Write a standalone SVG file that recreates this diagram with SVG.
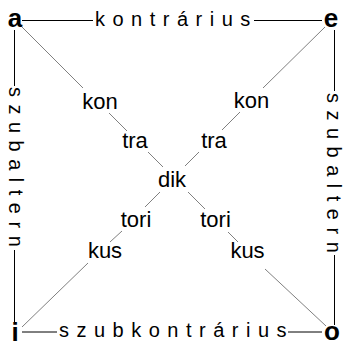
<svg xmlns="http://www.w3.org/2000/svg" width="345" height="347" viewBox="0 0 345 347">
<style>
.edge{stroke:#000;stroke-width:1;fill:none}
.diag{stroke:#808080;stroke-width:1;fill:none}
.v{font-family:"Liberation Sans",Arial,sans-serif;font-weight:bold;font-size:26px;fill:#000;text-anchor:middle}
.side{font-family:"Liberation Sans",Arial,sans-serif;font-size:20px;letter-spacing:7.5px;fill:#000}
.lab{font-family:"Liberation Sans",Arial,sans-serif;font-size:22px;fill:#000;text-anchor:middle}
</style>
<rect width="345" height="347" fill="#fff"/>
<g id="connectors">
  <g id="edge-a-e">
    <line class="edge" x1="22" y1="20.5" x2="93" y2="20.5"/>
    <text class="side" x="95" y="25.5">kontrárius</text>
    <line class="edge" x1="254" y1="20.5" x2="322" y2="20.5"/>
  </g>
  <g id="edge-a-i">
    <line class="edge" x1="14.5" y1="30" x2="14.5" y2="86"/>
    <text class="side" transform="translate(9,87) rotate(90)">szubaltern</text>
    <line class="edge" x1="14.5" y1="250" x2="14.5" y2="323"/>
  </g>
  <g id="edge-e-o">
    <line class="edge" x1="334.5" y1="30" x2="334.5" y2="91"/>
    <text class="side" transform="translate(327,93) rotate(90)">szubaltern</text>
    <line class="edge" x1="334.5" y1="255" x2="334.5" y2="325"/>
  </g>
  <g id="edge-i-o">
    <line class="edge" x1="22" y1="332" x2="57" y2="332"/>
    <text class="side" x="59" y="337">szubkontrárius</text>
    <line class="edge" x1="288" y1="332" x2="322" y2="332"/>
  </g>
  <g id="edge-a-o">
    <line class="diag" x1="22" y1="27" x2="83" y2="88"/>
    <line class="diag" x1="109" y1="113" x2="127" y2="131"/>
    <line class="diag" x1="148" y1="152" x2="163" y2="167"/>
    <line class="diag" x1="188" y1="192" x2="205" y2="209"/>
    <line class="diag" x1="228" y1="232" x2="238" y2="242"/>
    <line class="diag" x1="265" y1="269" x2="326" y2="326"/>
    <text class="lab" x="100" y="109">kon</text>
    <text class="lab" x="135" y="148">tra</text>
    <text class="lab" x="136" y="227">tori</text>
    <text class="lab" x="105" y="258">kus</text>
  </g>
  <g id="edge-e-i">
    <line class="diag" x1="325" y1="27" x2="263" y2="88"/>
    <line class="diag" x1="240" y1="112" x2="222" y2="130"/>
    <line class="diag" x1="199" y1="152" x2="185" y2="166"/>
    <line class="diag" x1="160" y1="192" x2="145" y2="207"/>
    <line class="diag" x1="122" y1="231" x2="110" y2="242"/>
    <line class="diag" x1="88" y1="263" x2="22" y2="327"/>
    <text class="lab" x="251.5" y="108">kon</text>
    <text class="lab" x="214" y="148">tra</text>
    <text class="lab" x="215.5" y="227">tori</text>
    <text class="lab" x="247.5" y="258">kus</text>
  </g>
  <text class="lab" x="172" y="187">dik</text>
</g>
<g id="node-a"><text class="v" x="15" y="27">a</text></g>
<g id="node-e"><text class="v" x="331" y="27">e</text></g>
<g id="node-i"><text class="v" x="15" y="341">i</text></g>
<g id="node-o"><text class="v" x="332" y="340">o</text></g>
</svg>
